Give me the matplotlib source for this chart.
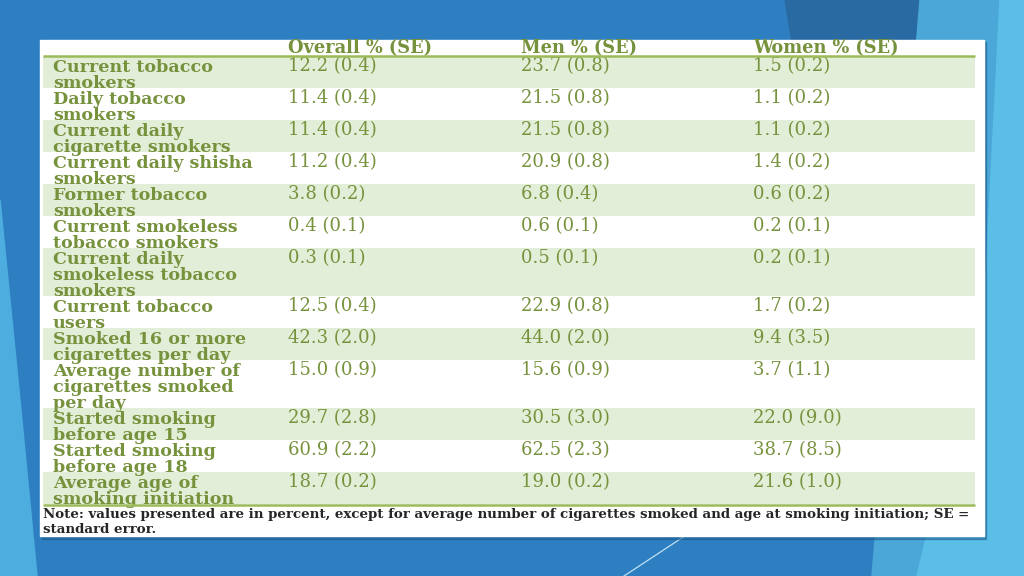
import matplotlib
matplotlib.use("Agg")
import matplotlib.pyplot as plt
from matplotlib.patches import Rectangle, Polygon

# ---- data ----
headers = ["Overall % (SE)", "Men % (SE)", "Women % (SE)"]
labels = [
    "Current tobacco\nsmokers",
    "Daily tobacco\nsmokers",
    "Current daily\ncigarette smokers",
    "Current daily shisha\nsmokers",
    "Former tobacco\nsmokers",
    "Current smokeless\ntobacco smokers",
    "Current daily\nsmokeless tobacco\nsmokers",
    "Current tobacco\nusers",
    "Smoked 16 or more\ncigarettes per day",
    "Average number of\ncigarettes smoked\nper day",
    "Started smoking\nbefore age 15",
    "Started smoking\nbefore age 18",
    "Average age of\nsmoking initiation",
]
overall = ["12.2 (0.4)", "11.4 (0.4)", "11.4 (0.4)", "11.2 (0.4)", "3.8 (0.2)", "0.4 (0.1)",
           "0.3 (0.1)", "12.5 (0.4)", "42.3 (2.0)", "15.0 (0.9)", "29.7 (2.8)", "60.9 (2.2)", "18.7 (0.2)"]
men = ["23.7 (0.8)", "21.5 (0.8)", "21.5 (0.8)", "20.9 (0.8)", "6.8 (0.4)", "0.6 (0.1)",
       "0.5 (0.1)", "22.9 (0.8)", "44.0 (2.0)", "15.6 (0.9)", "30.5 (3.0)", "62.5 (2.3)", "19.0 (0.2)"]
women = ["1.5 (0.2)", "1.1 (0.2)", "1.1 (0.2)", "1.4 (0.2)", "0.6 (0.2)", "0.2 (0.1)",
         "0.2 (0.1)", "1.7 (0.2)", "9.4 (3.5)", "3.7 (1.1)", "22.0 (9.0)", "38.7 (8.5)", "21.6 (1.0)"]
note_lines = [
    "Note: values presented are in percent, except for average number of cigarettes smoked and age at smoking initiation; SE =",
    "standard error.",
]

# ---- style ----
W, H = 1024, 576
BG = "#2E7FC1"
GREEN_TXT = "#76923C"
GREEN_FILL = "#E3EED8"
GREEN_LINE = "#9BBB59"
FONT = "DejaVu Serif"

fig = plt.figure(figsize=(W / 100, H / 100), dpi=100)
ax = fig.add_axes([0, 0, 1, 1])
ax.set_xlim(0, W)
ax.set_ylim(H, 0)
ax.axis("off")
fig.patch.set_facecolor(BG)

# background decorative shapes
ax.add_patch(Polygon([(785, 0), (920, 0), (935, 120), (805, 120)], closed=True, color="#2A6AA3", zorder=0))
ax.add_patch(Polygon([(920, 0), (1000, 0), (985, 290), (917, 576), (872, 576)], closed=True,
                     color="#4AA7D8", zorder=0))
ax.add_patch(Polygon([(1000, 0), (1024, 0), (1024, 576), (917, 576), (985, 290)], closed=True,
                     color="#5BBEE7", zorder=0))
ax.add_patch(Polygon([(0, 200), (20, 400), (37, 576), (0, 576)], closed=True, color="#4DADDF", zorder=0))
ax.plot([624, 700], [576, 526], color="#BFE0F5", lw=0.9, zorder=0.5)

# table box with slight shadow
ax.add_patch(Rectangle((42, 42), 944, 497, color="#1F5A8A", alpha=0.5, zorder=1))
ax.add_patch(Rectangle((40, 40), 944, 496, color="white", zorder=2))

x_lab = 53
x_cols = [288, 521, 753]
tx0, tx1 = 43, 975
line_h = 16.0
top = 56

# header
for x, h in zip(x_cols, headers):
    ax.text(x, 53, h, fontsize=12.8, family=FONT, weight="bold", color=GREEN_TXT,
            va="baseline", ha="left", zorder=5)

y = top
for i, lab in enumerate(labels):
    lines = lab.split("\n")
    rh = line_h * len(lines)
    if i % 2 == 0:
        ax.add_patch(Rectangle((tx0, y), tx1 - tx0, rh, color=GREEN_FILL, zorder=3, lw=0))
    for j, ln in enumerate(lines):
        ax.text(x_lab, y + 15.5 + line_h * j, ln, fontsize=12.6, family=FONT, weight="bold",
                color=GREEN_TXT, va="baseline", ha="left", zorder=5)
    for x, v in zip(x_cols, [overall[i], men[i], women[i]]):
        ax.text(x, y + 15.5, v, fontsize=13, family=FONT, color=GREEN_TXT,
                va="baseline", ha="left", zorder=5)
    y += rh

ax.plot([tx0, tx1], [56, 56], color=GREEN_LINE, lw=1.8, zorder=6, solid_capstyle="butt")
ax.plot([tx0, tx1], [y + 1, y + 1], color=GREEN_LINE, lw=1.8, zorder=6, solid_capstyle="butt")

for j, ln in enumerate(note_lines):
    ax.text(43, 518 + 15 * j, ln, fontsize=9.6, family=FONT, weight="bold", color="#262626",
            va="baseline", ha="left", zorder=5)

fig.savefig("out.png", dpi=100, facecolor=BG)
